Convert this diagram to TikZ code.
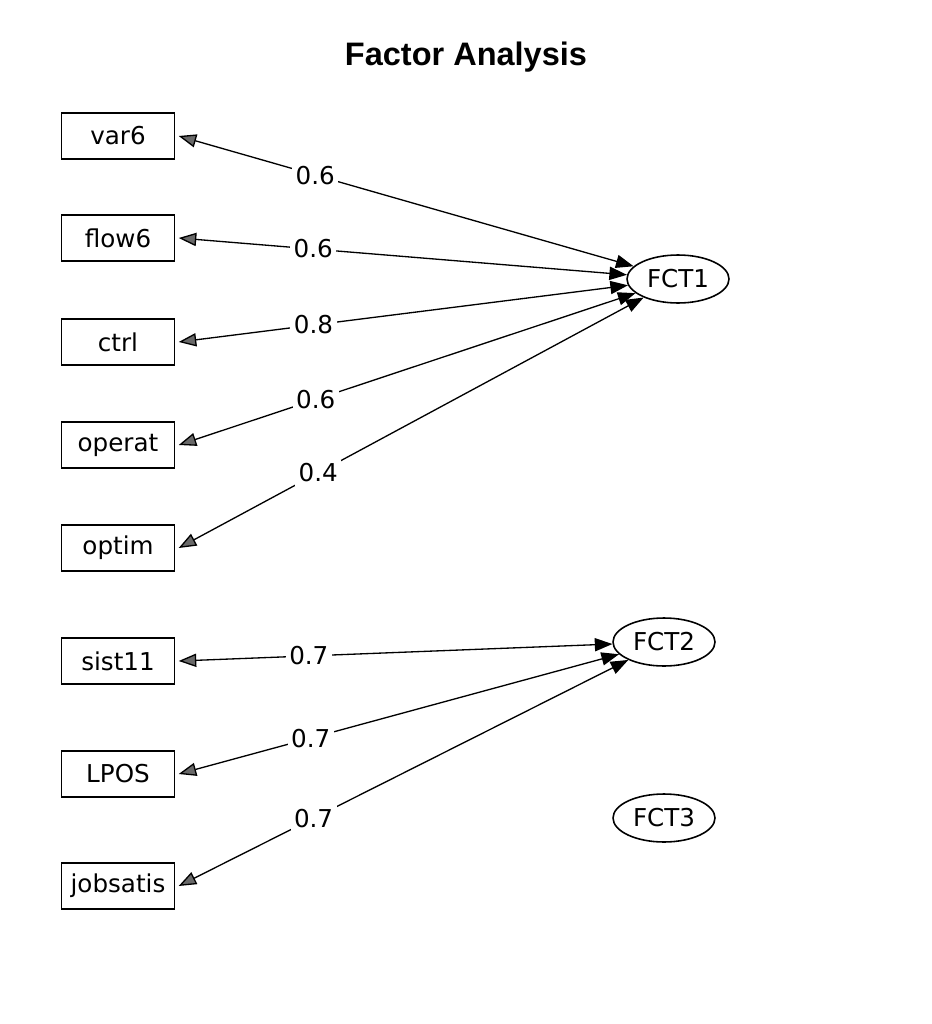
\documentclass[tikz,border=0pt]{standalone}
\usepackage{fontspec}
\setmainfont{DejaVu Sans}
\newfontfamily\titlefont{Liberation Sans}
\usetikzlibrary{arrows.meta, shapes.geometric}

\definecolor{fagray}{RGB}{105, 105, 105}

\begin{document}
\begin{tikzpicture}[
    x=0.02cm, y=-0.02cm,
    font=\fontsize{14}{17}\selectfont,
    var/.style={draw=black, line width=0.8pt, minimum width=2.26cm, minimum height=0.92cm, inner sep=0pt},
    fct/.style={draw=black, line width=0.9pt, ellipse, minimum width=2.04cm, minimum height=0.96cm, inner sep=0pt},
    load/.style={line width=0.75pt,
      {Triangle[length=10pt, width=7.5pt, fill=fagray]}-{Triangle[length=10pt, width=7.5pt]}},
    lbl/.style={fill=white, inner sep=2pt, font=\fontsize{14}{17}\selectfont, pos=0.3},
  ]
    \useasboundingbox (0,0) rectangle (932,1024);

    \node[font=\titlefont\bfseries\fontsize{18.5}{22}\selectfont] (title) at (466,57) {Factor Analysis};

    % --- observed variables (left column) ---
    \foreach \v/\yy in {var6/136, flow6/238, ctrl/342, operat/445, optim/548,
                        sist11/661, LPOS/774, jobsatis/886} {
      \node[var] (\v) at (118,\yy) {\v};
    }

    % --- factors ---
    \node[fct] (FCT1) at (678,279) {FCT1};
    \node[fct] (FCT2) at (664,642) {FCT2};
    \node[fct] (FCT3) at (664,818) {FCT3};

    % --- loadings ---
    \foreach \v/\f/\w in {var6/FCT1/0.6, flow6/FCT1/0.6, ctrl/FCT1/0.8,
                          operat/FCT1/0.6, optim/FCT1/0.4,
                          sist11/FCT2/0.7, LPOS/FCT2/0.7, jobsatis/FCT2/0.7} {
      \draw[load] ([xshift=2pt]\v.east) -- node[lbl] {\w} (\f);
    }
\end{tikzpicture}
\end{document}
